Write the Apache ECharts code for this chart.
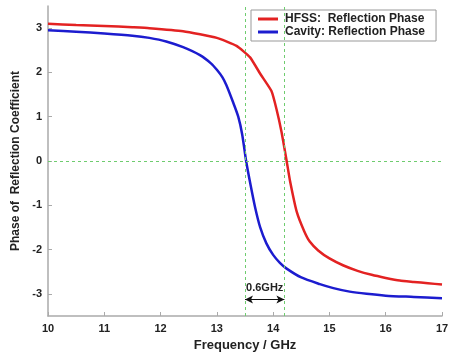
<!DOCTYPE html>
<html><head><meta charset="utf-8">
<script src="https://cdn.jsdelivr.net/npm/echarts@6/dist/echarts.min.js"></script>
<style>html,body{margin:0;padding:0;background:#fff}#c{width:449px;height:354px}</style>
</head><body><div id="c"></div>
<script>
var hfssFreq  = [10, 10.5, 11, 11.5, 11.8, 12.4, 13.0, 13.35, 13.59, 13.77, 13.97, 14.06, 14.15, 14.24, 14.3, 14.42, 14.55, 14.65, 14.8, 15.0, 15.25, 15.5, 15.75, 16.0, 16.25, 16.5, 16.75, 17];
var hfssPhase = [3.10, 3.07, 3.05, 3.02, 3.00, 2.93, 2.78, 2.60, 2.34, 1.97, 1.58, 1.17, 0.65, 0.00, -0.45, -1.15, -1.58, -1.82, -2.02, -2.20, -2.36, -2.48, -2.57, -2.64, -2.70, -2.73, -2.76, -2.79];
var cavFreq   = [10, 10.5, 11, 11.5, 11.8, 12.1, 12.4, 12.7, 12.9, 13.0, 13.1, 13.17, 13.29, 13.38, 13.45, 13.52, 13.6, 13.68, 13.77, 13.88, 14.0, 14.12, 14.24, 14.5, 14.83, 15.07, 15.36, 15.66, 16.0, 16.5, 17];
var cavPhase  = [2.95, 2.92, 2.88, 2.83, 2.78, 2.70, 2.57, 2.39, 2.20, 2.06, 1.89, 1.71, 1.32, 1.00, 0.60, 0.00, -0.55, -1.05, -1.50, -1.86, -2.12, -2.30, -2.43, -2.63, -2.78, -2.87, -2.95, -3.00, -3.04, -3.07, -3.10];
var yTicks = [-3, -2, -1, 0, 1, 2, 3];
var markFreqs = [13.5, 14.2];
var arrowY = -3.13;
var arrowLabel = '0.6GHz';

function pairs(xs, ys){ return xs.map(function(x,i){ return [x, ys[i]]; }); }
var txt = '#222';
var font = 'Liberation Sans, Arial, sans-serif';
var green = '#6fcc6f';
var guideStyle = { color: green, type: [3, 3], width: 1 };
var chart = echarts.init(document.getElementById('c'));
chart.setOption({
  animation: false,
  backgroundColor: '#fff',
  textStyle: { fontFamily: font },
  grid: { left: 48, right: 7, top: 6, bottom: 38, outerBoundsMode: 'none', containLabel: false },
  legend: {
    orient: 'vertical', left: 251, top: 10,
    width: 187,
    padding: [3, 11, 3, 7],
    backgroundColor: '#fff', borderColor: '#999', borderWidth: 1,
    itemWidth: 20, itemHeight: 3, itemGap: 1,
    icon: 'rect',
    textStyle: { fontWeight: 'bold', fontSize: 12, color: txt, fontFamily: font, padding: [0, 0, 0, 2] },
    data: ['HFSS:  Reflection Phase', 'Cavity: Reflection Phase']
  },
  xAxis: {
    type: 'value', min: 10, max: 17, interval: 1,
    name: 'Frequency / GHz', nameLocation: 'middle', nameGap: 19,
    nameTextStyle: { fontWeight: 'bold', fontSize: 13, color: txt },
    axisLine: { onZero: false, lineStyle: { color: '#aaa', width: 1.5 } },
    axisTick: { inside: true, length: 4, lineStyle: { color: '#aaa' } },
    axisLabel: { fontWeight: 'bold', fontSize: 11, color: txt, margin: 7 },
    splitLine: { show: false }
  },
  yAxis: {
    type: 'value', min: -3.5, max: 3.5,
    name: 'Phase of  Reflection Coefficient', nameLocation: 'middle', nameGap: 24,
    nameTextStyle: { fontWeight: 'bold', fontSize: 12, color: txt },
    axisLine: { show: true, onZero: false, lineStyle: { color: '#aaa', width: 1.5 } },
    axisTick: { show: true, inside: true, length: 4, customValues: yTicks, lineStyle: { color: '#aaa' } },
    axisLabel: { fontWeight: 'bold', fontSize: 11, color: txt, margin: 6, customValues: yTicks },
    splitLine: { show: false }
  },
  series: [
    {
      name: 'HFSS:  Reflection Phase', type: 'line', data: pairs(hfssFreq, hfssPhase),
      showSymbol: false, smooth: 0.15, lineStyle: { color: '#e32222', width: 2.5 }, itemStyle: { color: '#e32222' }, z: 3
    },
    {
      name: 'Cavity: Reflection Phase', type: 'line', data: pairs(cavFreq, cavPhase),
      showSymbol: false, smooth: 0.25, lineStyle: { color: '#1c1ccf', width: 2.5 }, itemStyle: { color: '#1c1ccf' }, z: 3
    },
    {
      name: 'guides', type: 'line', data: [], z: 1, color: green,
      markLine: {
        silent: true, symbol: 'none',
        lineStyle: guideStyle,
        label: { show: false },
        data: [
          { xAxis: markFreqs[0], lineStyle: guideStyle },
          { xAxis: markFreqs[1], lineStyle: guideStyle },
          { yAxis: 0, lineStyle: guideStyle }
        ]
      }
    },
    {
      name: 'arrow', type: 'line', data: [], z: 4, color: '#111',
      markLine: {
        silent: true, symbol: ['arrow', 'arrow'], symbolSize: [6, 8],
        lineStyle: { color: '#111', type: 'solid', width: 1 },
        label: { show: true, position: 'insideMiddleTop', formatter: arrowLabel, fontWeight: 'bold', fontSize: 11, color: txt, distance: 6 },
        data: [[{ coord: [markFreqs[0], arrowY] }, { coord: [markFreqs[1], arrowY] }]]
      }
    }
  ]
});
</script></body></html>
